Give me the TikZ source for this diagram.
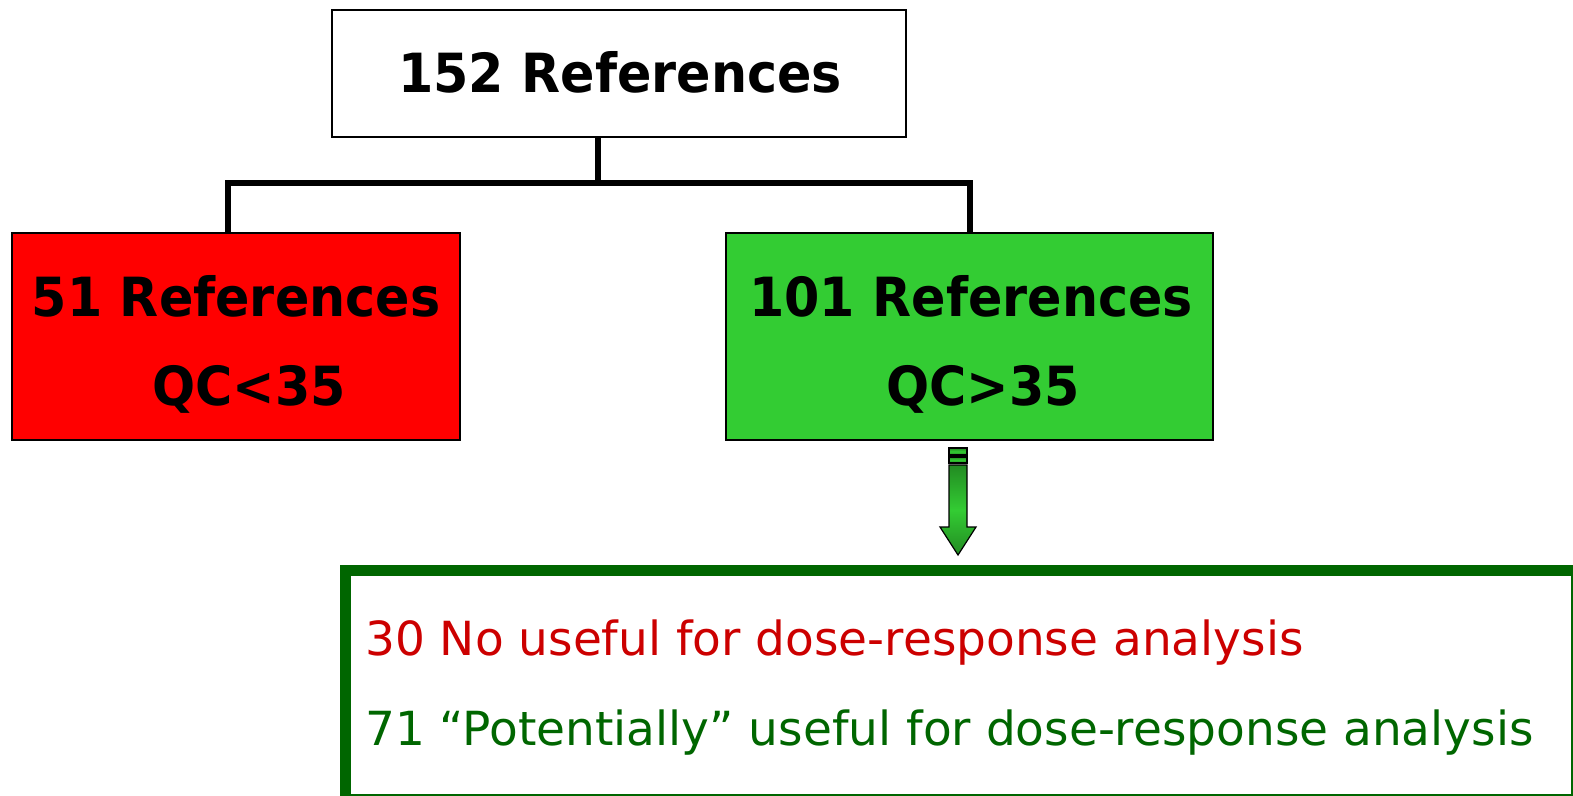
\documentclass[tikz,border=0pt]{standalone}
\usepackage{fontspec}
\setmainfont{DejaVu Sans}
\definecolor{redfill}{HTML}{FF0000}
\definecolor{greenfill}{HTML}{33CC33}
\definecolor{darkgreen}{HTML}{006600}
\definecolor{textred}{HTML}{CC0000}
\definecolor{arrowdark}{HTML}{228B22}
\begin{document}
\begin{tikzpicture}[x=1pt,y=-1pt,
  refbox/.style={draw=black, line width=2pt, inner sep=0pt},
  conn/.style={line width=6.5pt},
  boldtxt/.style={font=\fontsize{54}{60}\selectfont\bfseries},
  listtxt/.style={font=\fontsize{47}{52}\selectfont, anchor=base west, inner sep=0pt},
  arrowpart/.style={line width=1.2pt, top color=arrowdark, bottom color=arrowdark, middle color=greenfill}
]
\useasboundingbox (0,0) rectangle (1573,795);
% top box
\node[refbox, fill=white, minimum width=574pt, minimum height=127pt] (top) at (619,73.5) {};
\node[boldtxt] (toptxt) at (620,72) {\scalebox{0.94}[1]{152 References}};
% left & right boxes
\node[refbox, fill=redfill, minimum width=448pt, minimum height=207pt] (left) at (236,336.5) {};
\node[refbox, fill=greenfill, minimum width=487pt, minimum height=207pt] (right) at (969.5,336.5) {};
\node[boldtxt] (l1) at (236,296) {\scalebox{0.94}[1]{51 References}};
\node[boldtxt] (l2) at (249,389) {\scalebox{0.94}[1]{QC<35}};
\node[boldtxt] (r1) at (971,296) {\scalebox{0.94}[1]{101 References}};
\node[boldtxt] (r2) at (983,389) {\scalebox{0.94}[1]{QC>35}};
% connectors
\coordinate (hj) at (598,183);
\coordinate (hl) at (228,183);
\coordinate (hr) at (970,183);
\draw[conn] (top.south -| hj) -- (hj);
\draw[conn, line cap=rect] (hl) -- (hr);
\draw[conn] (hl) -- (left.north -| hl);
\draw[conn] (hr) -- (right.north -| hr);
% block arrow
\draw[arrowpart] (949,448) rectangle (967,455);
\draw[arrowpart] (949,457) rectangle (967,463);
\draw[arrowpart]
  (949,465) -- (967,465) -- (967,527) -- (976,527) -- (958,555) -- (940,527) -- (949,527) -- cycle;
% bottom box
\coordinate (bl) at (345,795);
\coordinate (tl) at (345,570);
\coordinate (tr) at (1572,570);
\coordinate (br) at (1572,795);
\draw[darkgreen, line width=1.5pt] (tr) -- (br) -- (bl);
\draw[darkgreen, line width=11pt, line cap=rect] (bl) -- (tl) -- (tr);
\node[listtxt, text=textred] (t1) at (365,655) {30 No useful for dose-response analysis};
\node[listtxt, text=darkgreen] (t2) at (365,745) {71 “Potentially” useful for dose-response analysis};
\end{tikzpicture}
\end{document}
